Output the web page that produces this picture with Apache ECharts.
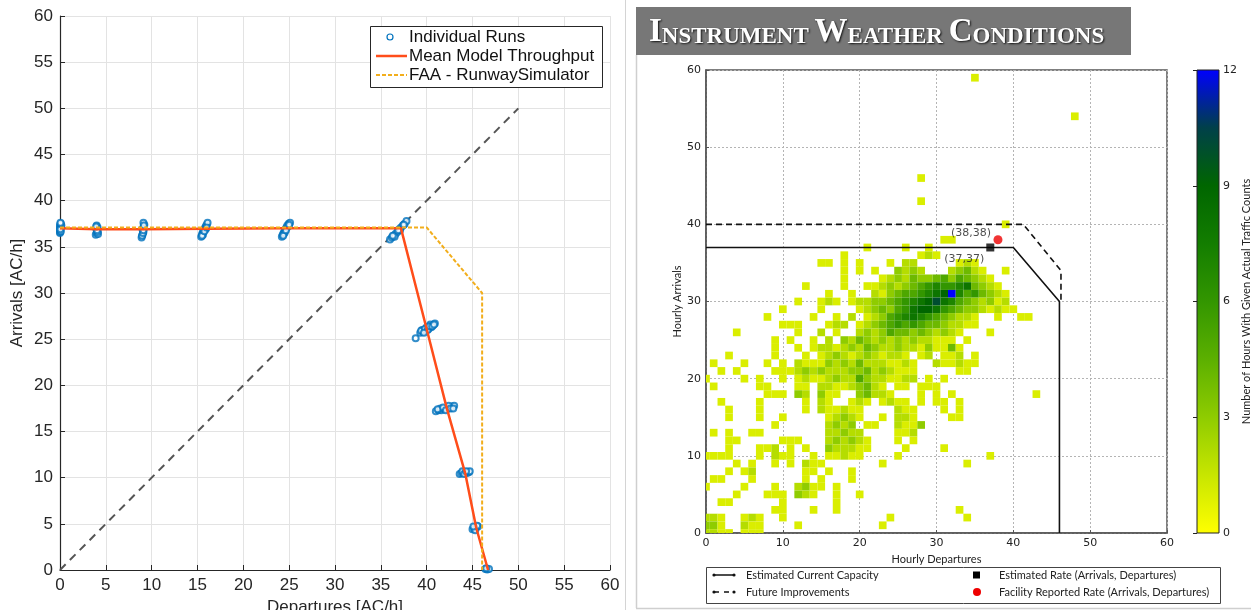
<!DOCTYPE html>
<html>
<head>
<meta charset="utf-8">
<title>Runway throughput and IMC traffic counts</title>
<script src="https://cdn.jsdelivr.net/npm/echarts@6/dist/echarts.min.js"></script>
<style>
  html, body { margin: 0; padding: 0; background: #ffffff; }
  #main { width: 1251px; height: 610px; }
</style>
</head>
<body>
<div id="main"></div>
<script>
// ---------- Left panel: simulated throughput ----------
const runPoints = [
  [0, 36.5], [0, 36.6], [0, 36.8], [0, 37.0], [0, 37.2], [0, 37.4], [0.1, 36.7], [0.1, 37.1], [0.15, 37.3], [0.05, 36.9], [0.1, 37.5], [0.05, 37.6],
  [3.9, 36.3], [4.0, 36.5], [4.1, 36.7], [4.0, 36.9], [4.1, 37.1], [4.0, 37.3], [4.15, 36.4], [3.95, 37.0], [4.1, 36.6], [4.05, 36.8], [3.95, 37.2],
  [8.9, 36.0], [9.0, 36.3], [9.1, 36.6], [9.0, 36.9], [9.1, 37.1], [9.2, 37.4], [9.1, 37.6], [8.95, 36.2], [9.15, 37.0], [9.05, 36.5], [9.1, 36.8], [9.15, 37.3],
  [15.4, 36.1], [15.5, 36.4], [15.6, 36.6], [15.7, 36.8], [15.8, 37.0], [15.9, 37.2], [16.0, 37.4], [16.1, 37.6], [15.6, 36.3], [15.9, 36.9], [15.5, 36.2], [15.75, 36.7], [16.0, 37.1],
  [24.2, 36.1], [24.3, 36.3], [24.4, 36.5], [24.5, 36.7], [24.6, 36.9], [24.7, 37.1], [24.8, 37.3], [24.95, 37.5], [25.1, 37.6], [24.5, 36.5], [24.9, 37.2], [24.35, 36.2], [24.65, 36.8], [25.0, 37.4],
  [36.0, 35.8], [36.2, 36.0], [36.4, 36.2], [36.6, 36.4], [36.8, 36.6], [37.0, 36.9], [37.2, 37.1], [37.4, 37.3], [37.6, 37.5], [37.8, 37.8], [36.5, 36.1], [37.1, 36.8], [36.3, 36.2], [36.9, 36.8], [37.5, 37.4],
  [38.8, 25.1], [39.3, 25.7], [39.6, 25.8], [39.9, 25.9], [40.2, 26.1], [40.5, 26.3], [40.7, 26.5], [40.9, 26.7], [39.5, 26.0], [40.0, 26.3], [40.4, 26.6],
  [39.4, 25.9], [39.8, 26.1], [40.1, 26.0], [40.3, 26.4], [40.6, 26.4], [40.8, 26.6], [39.7, 25.7],
  [41.0, 17.2], [41.3, 17.3], [41.6, 17.3], [41.9, 17.4], [42.2, 17.5], [42.5, 17.6], [42.8, 17.7], [43.0, 17.8], [41.5, 17.5], [42.4, 17.8],
  [41.2, 17.4], [41.8, 17.6], [42.1, 17.3], [42.6, 17.5], [42.9, 17.5],
  [43.6, 10.4], [43.8, 10.5], [44.0, 10.5], [44.2, 10.6], [44.4, 10.5], [44.6, 10.6], [44.7, 10.7], [43.9, 10.7], [44.1, 10.4], [44.3, 10.7],
  [45.0, 4.4], [45.2, 4.5], [45.4, 4.6], [45.6, 4.7], [45.3, 4.3], [45.5, 4.8], [45.1, 4.7],
  [46.4, 0.1], [46.6, 0.05], [46.8, 0.1], [46.5, 0.2]
];
const meanThroughput = [[0, 37.0], [4, 36.9], [9, 36.9], [16, 36.95], [24.7, 37.0], [37.2, 37.0], [40.0, 26.1], [42.2, 17.5], [44.2, 10.5], [45.4, 4.6], [46.7, 0]];
const faaSimulator = [[0, 37.1], [40, 37.1], [46.05, 30], [46.05, 0]];
const equalRateLine = [[0, 0], [50, 50]];

// ---------- Right panel: hourly traffic counts (IMC) ----------
// each entry: "startDeparture:count,count,..." runs of consecutive departure bins
const arrivalLevels = [59, 54, 46, 43, 40, 38, 37, 36, 35, 34, 33, 32, 31, 30, 29, 28, 27, 26, 25, 24, 23, 22, 21, 20, 19, 18, 17, 16, 15, 14, 13, 12, 11, 10, 9, 8, 7, 6, 5, 4, 3, 2, 1, 0];
const departureCounts = [
  '35:1',
  '48:1',
  '28:1',
  '28:1',
  '39:1',
  '31:1,1',
  '21:1 26:1 29:1',
  '18:1 28:1,2,1',
  '15:1,1 18:1 20:1 24:1 26:2,2 33:1,2,1',
  '18:1 20:1 22:1 25:3,2,3,2 32:2,3,4,2,1 39:1',
  '18:1 23:1,2,3,2,4,3,3,4,5,3,5,4,3,2,1',
  '13:1 18:1 21:1,1,2,3,2,3,4,5,6,7,6,6,7,8,4,3,2,1',
  '16:1 19:1 22:2,1,3,4,5,5,6,7,8,9,12,7,5,6,4,3,2,1',
  '12:1 15:1,2,1 19:1,2,2,3,3,4,5,6,7,8,9,10,8,7,5,4,3,2,3,1,2',
  '10:1 15:1 20:1,2,3,4,3,5,6,8,9,9,8,6,5,4,3,3,2,1,2,1,1',
  '8:1 14:1 17:1 19:2 21:1,2,3,5,6,7,8,7,6,5,4,3,2,2,1 38:1 41:1,1',
  '10:1,1,1 16:1,2,2 20:1,2,3,4,5,6,5,6,5,4,4,3,2,2,1,1',
  '4:1 12:1 15:2 17:1 20:2,3,2,3,5,4,4,3,4,3,2,3,2,1 37:1',
  '9:1 11:1 14:1 16:2 18:3,2,4,3,2,3,2,3,2,3,2,2,1,1,1 34:1',
  '9:1 12:1 14:1,2,2,1,2,3,2,4,3,2,2,3,2,2,1,3,1,1,4,1',
  '3:1 9:1 13:1 15:1,2,3,2,1,2,3,2,1,2,2,1 28:1,2 31:1,1,2 35:1',
  '1:1 5:1 8:1 10:1 12:2,1,1,1,3,2,3,2,4,2,2,2,1,1,2,1 30:2,1,1,2,1,1',
  '2:1 4:1 9:1,1,1,2,3,2,3,2,2,2,3,3,4,2,3,2,1,1,1 33:1,1',
  '0:1 5:1 7:1 10:1 12:1,2,1,1,2,3,2,2,5,3,2,2,1,1,2,2 29:1 31:1',
  '1:1 7:1,1 12:1,1 15:2,2,1,1,2,3,4,2,1 25:1,1 28:1,1,1',
  '8:1,1,1 12:3,2 15:3,1,1 20:3,4,2,2,1 28:1 30:1 32:1 43:1',
  '2:1 7:1 13:1 15:2,1 19:1,2,1 23:1,2,1,1 28:1 30:1,1 33:1',
  '3:1 7:1 13:1 15:2,1,1,2,1,1 25:2,1,1 31:1 33:1',
  '3:1 7:1 10:1 16:1,2,3,2,1 23:1 25:2,2,1 32:1,1',
  '9:1 16:2,3,2,3 21:1,1 25:2,1,1,3',
  '1:1 3:1 6:1,1 16:2,2,3,2,2 25:1,1,2',
  '3:1,1 10:1,1,1 16:2,3,2,3,2,1 25:1 27:1',
  '3:1 7:1,1,2 11:1 13:1 16:3,2,2,2,1,1 26:1 31:1',
  '0:1,1,1,1 7:1 9:2,1,1 14:1 16:1,1,2,1,1 25:1 37:1',
  '4:1 6:1 9:1 11:1 13:2,1,1 23:1 34:1',
  '3:1 5:1,2 13:1,1 16:1 19:1',
  '1:1,1 6:1 13:1 15:1 19:1',
  '0:1 5:1 9:1 12:2,3,1,1 17:1',
  '4:1 8:1,1,1 12:3,2,1 17:1 20:1',
  '2:1,1 10:1 17:1',
  '9:1,1 14:1 17:1 33:1',
  '0:2,2,1 5:1,2,1 10:1 24:1 34:1',
  '0:3,3,1 5:2,1,1 12:1 23:1',
  '0:2,2,1,1 5:1,1,1'
];
const currentCapacity = [[0, 37], [40, 37], [46, 30], [46, 0]];
const futureCapacity = [[0, 40], [41.3, 40], [46.2, 34], [46.2, 30]];
const estimatedRate = [[37, 37]];
const reportedRate = [[38, 38]];
const countColors = ['#ffff00', '#c8e600', '#8fcc00', '#5cb000', '#339600', '#137d00', '#006600', '#00404a', '#0000ff'];

// expand the run-length rows into [departures, arrivals, count] cells
const countCells = [];
arrivalLevels.forEach(function (a, i) {
  departureCounts[i].split(' ').forEach(function (tok) {
    const parts = tok.split(':');
    const start = Number(parts[0]);
    parts[1].split(',').forEach(function (v, k) {
      countCells.push([start + k, a, Number(v)]);
    });
  });
});

const chart = echarts.init(document.getElementById('main'), null, { renderer: 'canvas' });

const leftFont = 'Liberation Sans, Arial, Helvetica, sans-serif';
const rightFont = 'Lato, Open Sans, sans-serif';
const numFont = 'DejaVu Sans, sans-serif';

function leftAxis(name, gap) {
  return {
    gridIndex: 0, type: 'value', min: 0, max: 60, interval: 5,
    name: name, nameLocation: 'middle', nameGap: gap,
    nameTextStyle: { fontSize: 17, color: '#262626', fontFamily: leftFont },
    axisLine: { show: true, lineStyle: { color: '#262626', width: 1.2 } },
    axisTick: { show: true, inside: true, length: 5, lineStyle: { color: '#262626' } },
    axisLabel: { fontSize: 17, color: '#262626', fontFamily: leftFont, margin: 7 },
    splitLine: { show: true, lineStyle: { color: '#e3e3e3', width: 1 } }
  };
}
function rightAxis(name, gap) {
  return {
    gridIndex: 1, type: 'value', min: 0, max: 60, interval: 10,
    name: name, nameLocation: 'middle', nameGap: gap,
    nameTextStyle: { fontSize: 11, color: '#222', fontFamily: rightFont },
    axisLine: { show: true, lineStyle: { color: '#555', width: 1.5 } },
    axisTick: { show: true, inside: true, length: 3, lineStyle: { color: '#555' } },
    axisLabel: { fontSize: 11, color: '#222', fontFamily: numFont, margin: 5 },
    splitLine: { show: true, lineStyle: { color: '#b4b4b4', width: 1, type: [2, 2] } }
  };
}

const option = {
  animation: false,
  backgroundColor: '#ffffff',
  grid: [
    { left: 60, top: 16, width: 550, height: 554, outerBoundsMode: 'none', containLabel: false },
    { left: 706, top: 70, width: 461, height: 463, outerBoundsMode: 'none', containLabel: false,
      show: true, borderColor: '#555', borderWidth: 1.5, backgroundColor: 'transparent' },
    { left: 1197, top: 70, width: 22, height: 463, outerBoundsMode: 'none', containLabel: false }
  ],
  xAxis: [
    leftAxis('Departures [AC/h]', 28),
    rightAxis('Hourly Departures', 14),
    { gridIndex: 2, type: 'value', min: 0, max: 1, show: false }
  ],
  yAxis: [
    leftAxis('Arrivals [AC/h]', 34),
    rightAxis('Hourly Arrivals', 20),
    {
      gridIndex: 2, type: 'value', min: 0, max: 12, interval: 3, position: 'right',
      name: 'Number of Hours With Given Actual Traffic Counts', nameLocation: 'middle', nameRotate: 90, nameGap: 14,
      nameTextStyle: { fontSize: 11, color: '#222', fontFamily: rightFont },
      axisLine: { show: false },
      axisTick: { show: true, inside: true, length: 4, lineStyle: { color: '#222' } },
      axisLabel: { fontSize: 11, color: '#222', fontFamily: numFont, margin: 4 },
      splitLine: { show: false }
    }
  ],
  visualMap: {
    type: 'continuous', show: false, seriesIndex: 4, dimension: 2,
    min: 0, max: 12, inRange: { color: countColors }
  },
  series: [
    {
      name: 'Individual Runs', type: 'scatter', xAxisIndex: 0, yAxisIndex: 0,
      symbol: 'emptyCircle', symbolSize: 6, z: 3,
      itemStyle: { color: '#0072BD', borderColor: '#0072BD', borderWidth: 1.3 },
      data: runPoints
    },
    {
      name: 'Mean Model Throughput', type: 'line', xAxisIndex: 0, yAxisIndex: 0,
      symbol: 'none', z: 4,
      lineStyle: { color: '#FF4D1A', width: 2.5 },
      data: meanThroughput
    },
    {
      name: 'FAA - RunwaySimulator', type: 'line', xAxisIndex: 0, yAxisIndex: 0,
      symbol: 'none', z: 5,
      lineStyle: { color: '#F2AE1C', width: 2, type: [4, 2] },
      data: faaSimulator
    },
    {
      name: 'Equal rate', type: 'line', xAxisIndex: 0, yAxisIndex: 0,
      symbol: 'none', z: 2,
      lineStyle: { color: '#555555', width: 2, type: [8, 6] },
      data: equalRateLine
    },
    {
      name: 'Traffic counts', type: 'custom', xAxisIndex: 1, yAxisIndex: 1, z: 2,
      renderItem: function (params, api) {
        const d = api.value(0), a = api.value(1);
        const p0 = api.coord([d - 0.5, a + 0.5]);
        const p1 = api.coord([d + 0.5, a - 0.5]);
        const rect = echarts.graphic.clipRectByRect(
          { x: p0[0], y: p0[1], width: p1[0] - p0[0], height: p1[1] - p0[1] },
          { x: params.coordSys.x, y: params.coordSys.y, width: params.coordSys.width, height: params.coordSys.height }
        );
        return rect && { type: 'rect', shape: rect, style: { fill: api.visual('color') } };
      },
      encode: { x: 0, y: 1 },
      data: countCells
    },
    {
      name: 'Estimated Current Capacity', type: 'line', xAxisIndex: 1, yAxisIndex: 1,
      symbol: 'none', z: 5,
      lineStyle: { color: '#111', width: 1.6 },
      data: currentCapacity
    },
    {
      name: 'Future Improvements', type: 'line', xAxisIndex: 1, yAxisIndex: 1,
      symbol: 'none', z: 5,
      lineStyle: { color: '#111', width: 1.6, type: [6, 4] },
      data: futureCapacity
    },
    {
      name: 'Estimated Rate (Arrivals, Departures)', type: 'scatter', xAxisIndex: 1, yAxisIndex: 1,
      symbol: 'rect', symbolSize: 8, z: 6,
      itemStyle: { color: '#000' },
      label: {
        show: true, position: 'inside', offset: [-26, 12],
        formatter: function (p) { return '(' + p.value[0] + ',' + p.value[1] + ')'; },
        fontSize: 11, fontFamily: numFont, color: '#222'
      },
      data: estimatedRate
    },
    {
      name: 'Facility Reported Rate (Arrivals, Departures)', type: 'scatter', xAxisIndex: 1, yAxisIndex: 1,
      symbol: 'circle', symbolSize: 9, z: 6,
      itemStyle: { color: '#ee0000' },
      label: {
        show: true, position: 'inside', offset: [-27, -7],
        formatter: function (p) { return '(' + p.value[0] + ',' + p.value[1] + ')'; },
        fontSize: 11, fontFamily: numFont, color: '#222'
      },
      data: reportedRate
    }
  ],
  graphic: [
    // panel separators
    { type: 'line', shape: { x1: 625.5, y1: 0, x2: 625.5, y2: 610 }, style: { stroke: '#d4d4d4', lineWidth: 1 }, z: 0 },
    { type: 'line', shape: { x1: 636.5, y1: 55, x2: 636.5, y2: 608 }, style: { stroke: '#cfcfcf', lineWidth: 1.5 }, z: 0 },
    { type: 'line', shape: { x1: 636, y1: 608.5, x2: 1251, y2: 608.5 }, style: { stroke: '#cfcfcf', lineWidth: 1.5 }, z: 0 },
    // title banner
    { type: 'rect', shape: { x: 636, y: 7, width: 495, height: 48 }, style: { fill: '#777777' }, z: 10 },
    {
      type: 'text', x: 649, y: 31, z: 11,
      style: {
        text: '{b|I}{s|NSTRUMENT }{b|W}{s|EATHER }{b|C}{s|ONDITIONS}',
        verticalAlign: 'middle',
        fill: '#ffffff',
        rich: {
          b: { fontSize: 33, lineHeight: 36, fontFamily: 'Liberation Serif, serif', fontWeight: 'bold', fill: '#fff', verticalAlign: 'bottom',
               textShadowColor: 'rgba(0,0,0,0.85)', textShadowBlur: 2, textShadowOffsetX: 1, textShadowOffsetY: 1 },
          s: { fontSize: 23, lineHeight: 28, fontFamily: 'Liberation Serif, serif', fontWeight: 'bold', fill: '#fff', verticalAlign: 'bottom',
               textShadowColor: 'rgba(0,0,0,0.85)', textShadowBlur: 2, textShadowOffsetX: 1, textShadowOffsetY: 1 }
        }
      }
    },
    // left legend
    { type: 'rect', shape: { x: 370.5, y: 26.5, width: 232, height: 61 }, style: { fill: '#ffffff', stroke: '#262626', lineWidth: 1 }, z: 20 },
    { type: 'circle', shape: { cx: 390, cy: 37, r: 3 }, style: { fill: 'none', stroke: '#0072BD', lineWidth: 1.2 }, z: 21 },
    { type: 'line', shape: { x1: 376, y1: 56, x2: 407, y2: 56 }, style: { stroke: '#FF4D1A', lineWidth: 2.5 }, z: 21 },
    { type: 'line', shape: { x1: 376, y1: 75, x2: 407, y2: 75 }, style: { stroke: '#F2AE1C', lineWidth: 2, lineDash: [4, 2] }, z: 21 },
    { type: 'text', x: 409, y: 37, z: 21, style: { text: 'Individual Runs', font: '17px ' + leftFont, fill: '#111', verticalAlign: 'middle' } },
    { type: 'text', x: 409, y: 56, z: 21, style: { text: 'Mean Model Throughput', font: '17px ' + leftFont, fill: '#111', verticalAlign: 'middle' } },
    { type: 'text', x: 409, y: 75, z: 21, style: { text: 'FAA - RunwaySimulator', font: '17px ' + leftFont, fill: '#111', verticalAlign: 'middle' } },
    // colour bar
    {
      type: 'rect', shape: { x: 1197, y: 70, width: 22, height: 463 }, z: 5,
      style: {
        fill: new echarts.graphic.LinearGradient(0, 1, 0, 0, countColors.map(function (c, i) {
          return { offset: i / (countColors.length - 1), color: c };
        })),
        stroke: '#222', lineWidth: 1
      }
    },
    // right legend
    { type: 'rect', shape: { x: 706.5, y: 567.5, width: 514, height: 36 }, style: { fill: '#ffffff', stroke: '#444', lineWidth: 1 }, z: 20 },
    { type: 'line', shape: { x1: 714, y1: 575, x2: 734, y2: 575 }, style: { stroke: '#111', lineWidth: 1.5 }, z: 21 },
    { type: 'circle', shape: { cx: 714, cy: 575, r: 1.6 }, style: { fill: '#111' }, z: 21 },
    { type: 'circle', shape: { cx: 734, cy: 575, r: 1.6 }, style: { fill: '#111' }, z: 21 },
    { type: 'line', shape: { x1: 714, y1: 592, x2: 734, y2: 592 }, style: { stroke: '#111', lineWidth: 1.5, lineDash: [5, 5] }, z: 21 },
    { type: 'circle', shape: { cx: 714, cy: 592, r: 1.6 }, style: { fill: '#111' }, z: 21 },
    { type: 'circle', shape: { cx: 734, cy: 592, r: 1.6 }, style: { fill: '#111' }, z: 21 },
    { type: 'text', x: 746, y: 575, z: 21, style: { text: 'Estimated Current Capacity', font: '11px ' + rightFont, fill: '#222', verticalAlign: 'middle' } },
    { type: 'text', x: 746, y: 592, z: 21, style: { text: 'Future Improvements', font: '11px ' + rightFont, fill: '#222', verticalAlign: 'middle' } },
    { type: 'rect', shape: { x: 973, y: 571.5, width: 7, height: 7 }, style: { fill: '#000' }, z: 21 },
    { type: 'circle', shape: { cx: 977, cy: 592, r: 4 }, style: { fill: '#ee0000' }, z: 21 },
    { type: 'text', x: 999, y: 575, z: 21, style: { text: 'Estimated Rate (Arrivals, Departures)', font: '11px ' + rightFont, fill: '#222', verticalAlign: 'middle' } },
    { type: 'text', x: 999, y: 592, z: 21, style: { text: 'Facility Reported Rate (Arrivals, Departures)', font: '11px ' + rightFont, fill: '#222', verticalAlign: 'middle' } }
  ]
};

chart.setOption(option);
</script>
</body>
</html>
